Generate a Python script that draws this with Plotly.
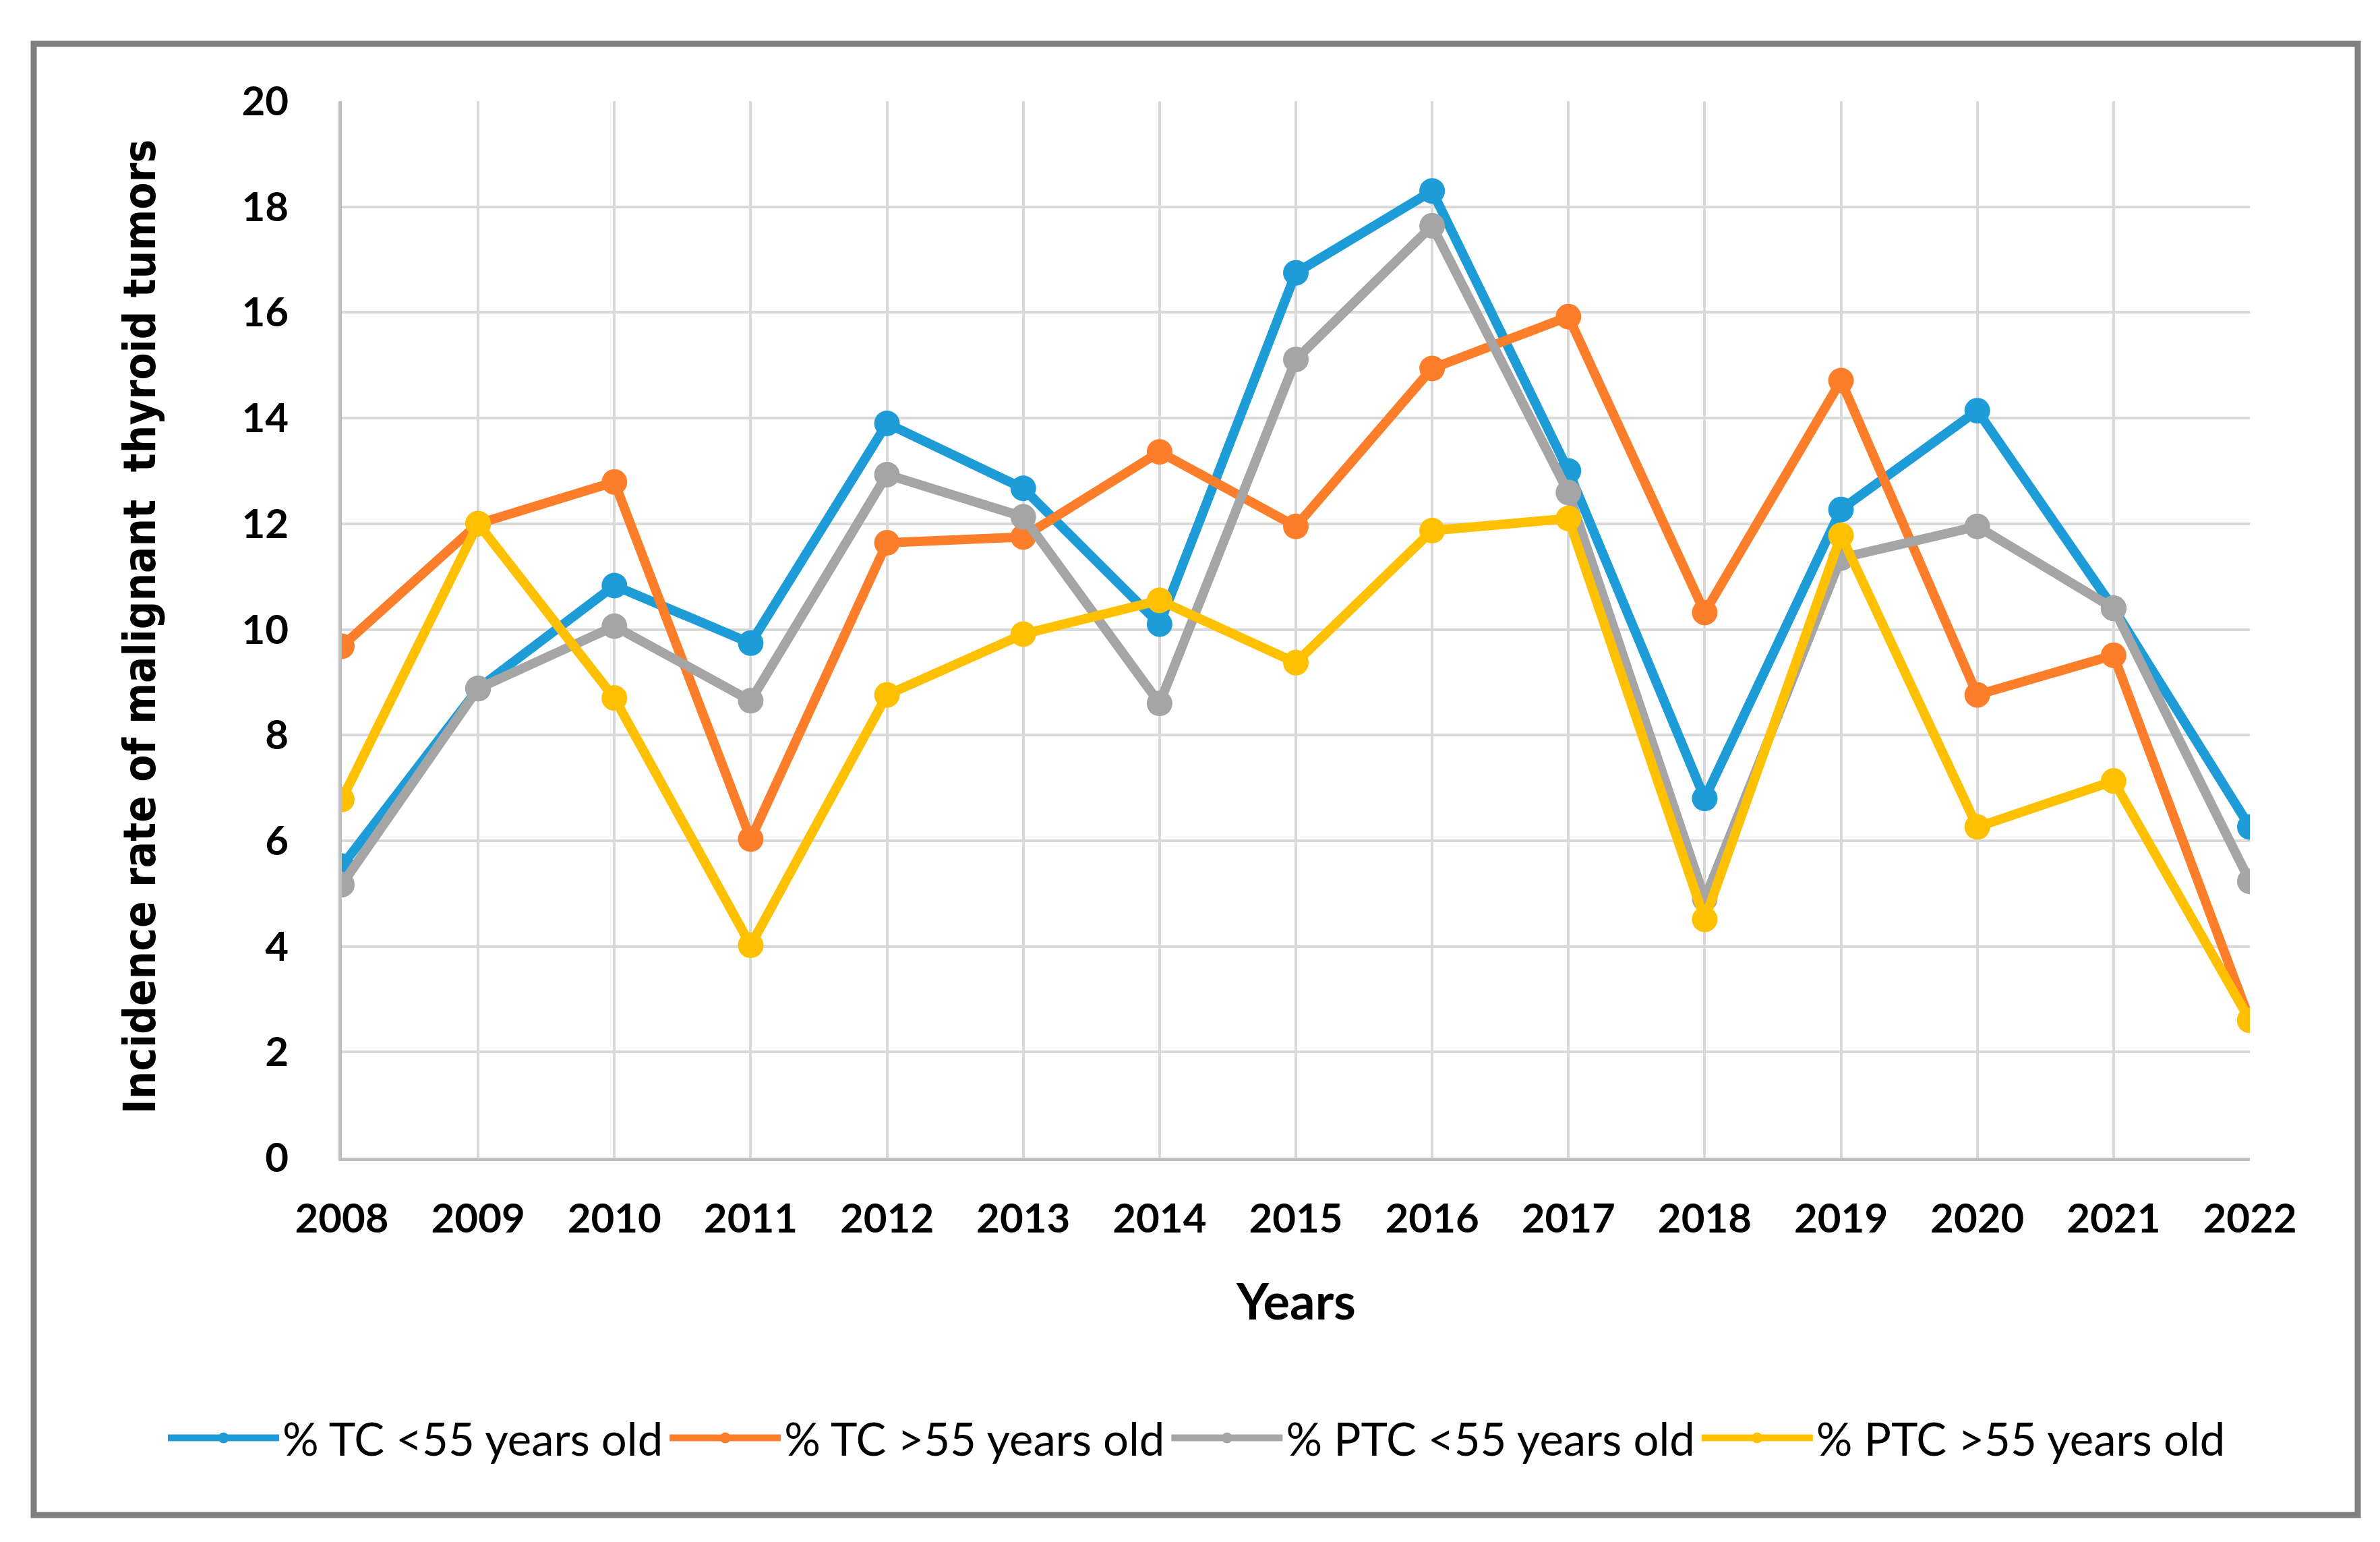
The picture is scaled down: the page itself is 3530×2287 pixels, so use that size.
import plotly.graph_objects as go

years = [2008, 2009, 2010, 2011, 2012, 2013, 2014, 2015, 2016, 2017, 2018, 2019, 2020, 2021, 2022]

tc_under55 = [5.52, 8.88, 10.83, 9.74, 13.9, 12.67, 10.1, 16.75, 18.3, 13.0, 6.8, 12.27, 14.14, 10.4, 6.26]
tc_over55 = [9.68, 12.0, 12.79, 6.03, 11.64, 11.75, 13.36, 11.95, 14.94, 15.92, 10.32, 14.71, 8.76, 9.51, 2.6]
ptc_under55 = [5.17, 8.88, 10.06, 8.65, 12.93, 12.13, 8.6, 15.11, 17.64, 12.59, 4.9, 11.35, 11.95, 10.4, 5.23]
ptc_over55 = [6.78, 12.0, 8.7, 4.02, 8.76, 9.91, 10.55, 9.37, 11.87, 12.1, 4.51, 11.78, 6.26, 7.13, 2.6]

series_names = ["% TC <55 years old", "% TC >55 years old", "% PTC <55 years old", "% PTC >55 years old"]
series_colors = ["#1E9CD8", "#FD7E2A", "#A5A5A5", "#FFC000"]
series_values = [tc_under55, tc_over55, ptc_under55, ptc_over55]

y_ticks = [0, 2, 4, 6, 8, 10, 12, 14, 16, 18, 20]

fig = go.Figure()
for name, color, vals in zip(series_names, series_colors, series_values):
    fig.add_trace(go.Scatter(
        x=years, y=vals, name=name, mode="lines+markers",
        line=dict(color=color, width=14),
        marker=dict(color=color, size=38, symbol="circle"),
    ))

W, H = 3530, 2287
L, R, T, B = 499, 201, 142, 578
pw, ph = W - L - R, H - T - B

def px_x(p):
    return (p - L) / pw

def px_y(p):
    return (H - B - p) / ph

fig.update_layout(
    width=W, height=H,
    margin=dict(l=L, r=R, t=T, b=B),
    paper_bgcolor="white", plot_bgcolor="white",
    showlegend=True,
    legend=dict(
        orientation="h", x=px_x(236), y=px_y(2125), xanchor="left", yanchor="middle",
        font=dict(family="Lato", size=67, color="black"),
        itemwidth=165, bgcolor="rgba(0,0,0,0)",
    ),
    xaxis=dict(
        range=[2008, 2022], tickmode="array", tickvals=years, ticktext=[str(y) for y in years],
        showgrid=True, gridcolor="#D9D9D9", gridwidth=4,
        showline=True, linecolor="#BFBFBF", linewidth=5,
        zeroline=False, ticks="", ticklabelstandoff=34,
        tickfont=dict(family="Lato", size=60, color="black", weight="bold"),
    ),
    yaxis=dict(
        range=[0, 20], tickmode="array", tickvals=y_ticks,
        showgrid=True, gridcolor="#D9D9D9", gridwidth=4,
        showline=True, linecolor="#BFBFBF", linewidth=5,
        zeroline=False, ticks="", ticklabelstandoff=62,
        tickfont=dict(family="Lato", size=60, color="black", weight="bold"),
    ),
    annotations=[
        dict(text="Incidence rate of malignant  thyroid tumors", xref="paper", yref="paper",
             x=px_x(199), y=px_y(922), xanchor="center", yanchor="middle", textangle=-90,
             showarrow=False,
             font=dict(family="DejaVu Sans Condensed, DejaVu Sans", size=65, color="black", weight="bold")),
        dict(text="Years", xref="paper", yref="paper",
             x=px_x(1914), y=px_y(1920), xanchor="center", yanchor="middle",
             showarrow=False,
             font=dict(family="Lato", size=74, color="black", weight="bold")),
    ],
    shapes=[
        dict(type="rect", xref="paper", yref="paper",
             x0=px_x(42), x1=px_x(3489), y0=px_y(2239), y1=px_y(57),
             line=dict(color="#7F7F7F", width=9), fillcolor="rgba(0,0,0,0)", layer="below"),
    ],
)

fig.write_html("out.html")
